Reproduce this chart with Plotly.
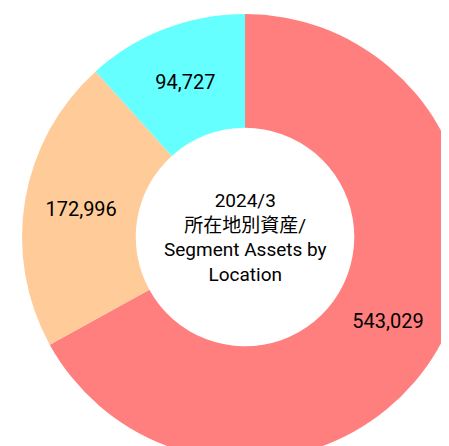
import plotly.graph_objects as go

regions = ["Japan", "Asia", "Other"]
assets = [543029, 172996, 94727]
colors = ["#FF7F7F", "#FFCC99", "#66FFFF"]
center_text = "2024/3<br>所在地別資産/<br>Segment Assets by<br>Location"

FONT = "Roboto, 'Noto Sans CJK JP', sans-serif"

fig = go.Figure(go.Pie(
    labels=regions,
    values=assets,
    marker=dict(colors=colors, line=dict(width=0)),
    hole=0.49,
    sort=False,
    direction="clockwise",
    rotation=0,
    texttemplate="%{value:,.0f}",
    textposition="inside",
    insidetextorientation="horizontal",
    textfont=dict(family=FONT, size=20, color="black"),
    showlegend=False,
))

fig.add_annotation(
    x=0.5, y=0.5, xref="paper", yref="paper",
    text=center_text, showarrow=False,
    font=dict(family=FONT, size=19, color="black"),
    align="center",
)

fig.update_layout(
    width=474, height=466,
    margin=dict(l=14, r=14, t=6, b=14, pad=0),
    paper_bgcolor="white",
    plot_bgcolor="white",
)

fig.write_html(
    "out.html",
    post_script="document.body.style.overflow='hidden';document.documentElement.style.overflow='hidden';",
)
